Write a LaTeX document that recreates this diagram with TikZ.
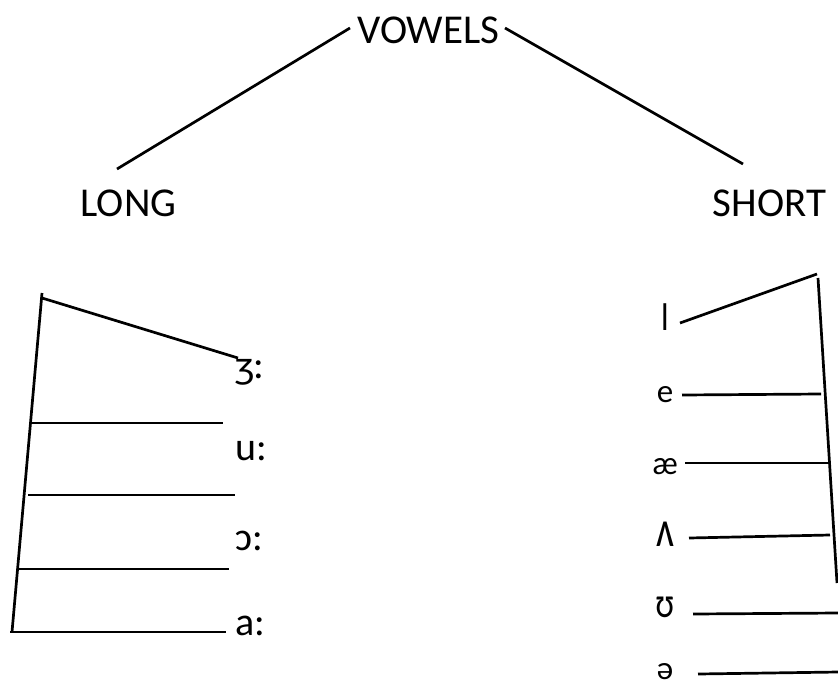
\documentclass[tikz,border=0pt]{standalone}
\usepackage{fontspec}
\setmainfont{Carlito}
\begin{document}
\begin{tikzpicture}[x=1pt,y=-1pt,
  ln/.style={line width=2.7pt},
  big/.style={font=\fontsize{41}{49}\selectfont, inner sep=0pt, anchor=base},
  lab/.style={font=\fontsize{40}{48}\selectfont, inner sep=0pt, anchor=base west},
  slab/.style={font=\fontsize{33}{40}\selectfont, inner sep=0pt, anchor=base}]
\fill[white] (0,0) rectangle (838,686);
\useasboundingbox (0,0) rectangle (838,686);
% headings
\node[big] (vowels) at (428.5,43) {VOWELS};
\node[big] (long) at (128.5,216) {LONG};
\node[big] (short) at (769.5,216) {SHORT};
\coordinate (vl) at (350,28);
\coordinate (vr) at (505,28);
\coordinate (lend) at (117,169);
\coordinate (send) at (743,164);
\draw[ln] (vl) -- (lend);
\draw[ln] (vr) -- (send);
% long vowels
\node[lab] (zh) at (235,378) {ʒ:};
\node[lab] (uu) at (235,460) {u:};
\node[lab] (oo) at (235,550) {ɔ:};
\node[lab] (aa) at (235,635) {a:};
\coordinate (lvt) at (42,293);
\coordinate (lvb) at (12,632);
\coordinate (ls1) at (42,298);
\coordinate (ls2) at (238,358);
\coordinate (lh1a) at (32,423); \coordinate (lh1b) at (223,423);
\coordinate (lh2a) at (28,495); \coordinate (lh2b) at (235,495);
\coordinate (lh3a) at (19,569); \coordinate (lh3b) at (229,569);
\coordinate (lh4a) at (10,632); \coordinate (lh4b) at (226,632);
\draw[ln] (lvt) -- (lvb);
\draw[ln] (ls1) -- (ls2);
\draw[ln] (lh1a) -- (lh1b);
\draw[ln] (lh2a) -- (lh2b);
\draw[ln] (lh3a) -- (lh3b);
\draw[ln] (lh4a) -- (lh4b);
% short vowels
\node[slab] (si) at (665,330) {\scalebox{1}[1.7]{ɪ}};
\node[slab] (se) at (665,402) {e};
\node[slab] (sae) at (665,474) {æ};
\node[slab] (sv) at (665,546) {\scalebox{1.2}[1.55]{ʌ}};
\node[slab] (su) at (665,617) {\scalebox{1.05}[1.3]{ʊ}};
\node[slab] (sa) at (665,679) {ə};
\coordinate (rvt) at (818,278);
\coordinate (rvb) at (837,583);
\coordinate (rs1) at (680,323); \coordinate (rs2) at (817,274);
\coordinate (rh1a) at (682,395); \coordinate (rh1b) at (821,394);
\coordinate (rh2a) at (685,463); \coordinate (rh2b) at (828,463);
\coordinate (rh3a) at (689,538); \coordinate (rh3b) at (830,535);
\coordinate (rh4a) at (693,614); \coordinate (rh4b) at (838,613);
\coordinate (rh5a) at (698,674); \coordinate (rh5b) at (838,672);
\draw[ln] (rvt) -- (rvb);
\draw[ln] (rs1) -- (rs2);
\draw[ln] (rh1a) -- (rh1b);
\draw[ln] (rh2a) -- (rh2b);
\draw[ln] (rh3a) -- (rh3b);
\draw[ln] (rh4a) -- (rh4b);
\draw[ln] (rh5a) -- (rh5b);
\end{tikzpicture}
\end{document}
